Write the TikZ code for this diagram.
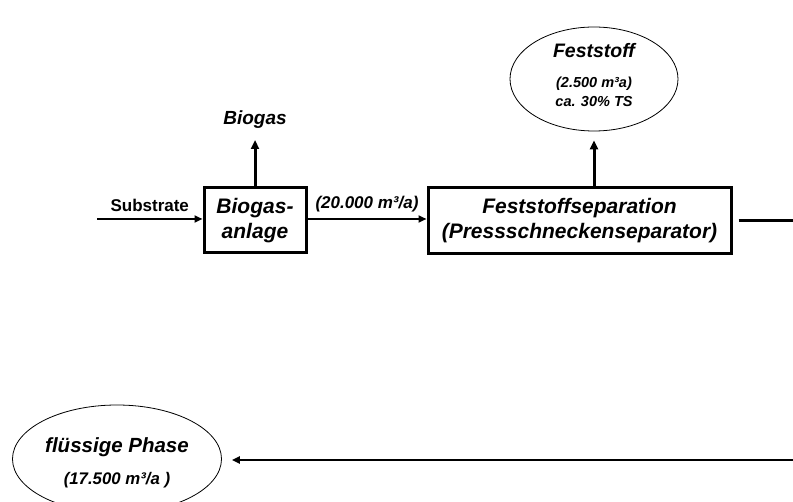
\documentclass[tikz,border=0pt]{standalone}
\usepackage{fontspec}
\setmainfont{Liberation Sans}
\usetikzlibrary{arrows.meta,shapes.geometric}

\tikzset{
  procbox/.style={draw, line width=3pt, align=center, inner sep=0pt,
    font=\fontsize{21}{25}\selectfont\bfseries\itshape},
  product/.style={draw, ellipse, line width=0.8pt, inner sep=0pt, align=center},
  flow/.style={line width=2pt, -{Triangle[length=8pt,width=7pt]}},
  mainflow/.style={line width=3pt, -{Triangle[length=9pt,width=8pt]}},
  flowlabel/.style={inner sep=0pt, font=\fontsize{17}{20}\selectfont\bfseries\itshape}
}

\begin{document}
\begin{tikzpicture}[x=1pt, y=-1pt]
  \useasboundingbox (0,0) rectangle (793,502);

  % process units
  \node[procbox, minimum width=102pt, minimum height=65pt] (bga) at (255,220.5)
    {Biogas-\\anlage};
  \node[procbox, minimum width=303pt, minimum height=66pt] (sep) at (579.5,221)
    {Feststoffseparation\\(Pressschneckenseparator)};

  % products
  \node[product, minimum width=168pt, minimum height=104pt] (fest) at (594,79)
    {\fontsize{19.5}{22}\selectfont\bfseries\itshape Feststoff\\[18pt]
     \fontsize{14.5}{18}\selectfont\bfseries\itshape (2.500 m³a)\\[4pt]
     \fontsize{14.5}{18}\selectfont\bfseries\itshape ca. 30\% TS\rule[-8pt]{0pt}{0pt}};
  \node[product, minimum width=209pt, minimum height=108pt] (fluid) at (117,459)
    {\fontsize{20.5}{24}\selectfont\bfseries\itshape\rule{0pt}{23pt}flüssige Phase\\[15pt]
     \fontsize{16.8}{20}\selectfont\bfseries\itshape (17.500 m³/a )};

  \node[inner sep=0pt, font=\fontsize{19}{22}\selectfont\bfseries\itshape] (gas) at (255,120) {Biogas};

  % free ends
  \coordinate (in)   at (97,219);
  \coordinate (gasout) at (255,140);
  \coordinate (rout) at (793,220);
  \coordinate (rin)  at (793,460);

  % flows
  \draw[flow] (in) -- (bga.west |- in)
    node[midway, above=6pt, inner sep=0pt, font=\fontsize{17}{20}\selectfont\bfseries] {Substrate};
  \draw[mainflow] (bga.north) -- (gasout);
  \draw[flow] (bga.east |- in) -- (sep.west |- in)
    node[midway, above=6pt, flowlabel] {(20.000 m³/a)};
  \draw[mainflow, shorten >=9pt] (fest.south |- sep.north) -- (fest.south);
  \draw[line width=3pt] ([xshift=6pt]sep.east) -- ([xshift=6pt]sep.east -| rout);
  \draw[flow, shorten >=10pt] (rin) -- (fluid.east |- rin);
\end{tikzpicture}
\end{document}
